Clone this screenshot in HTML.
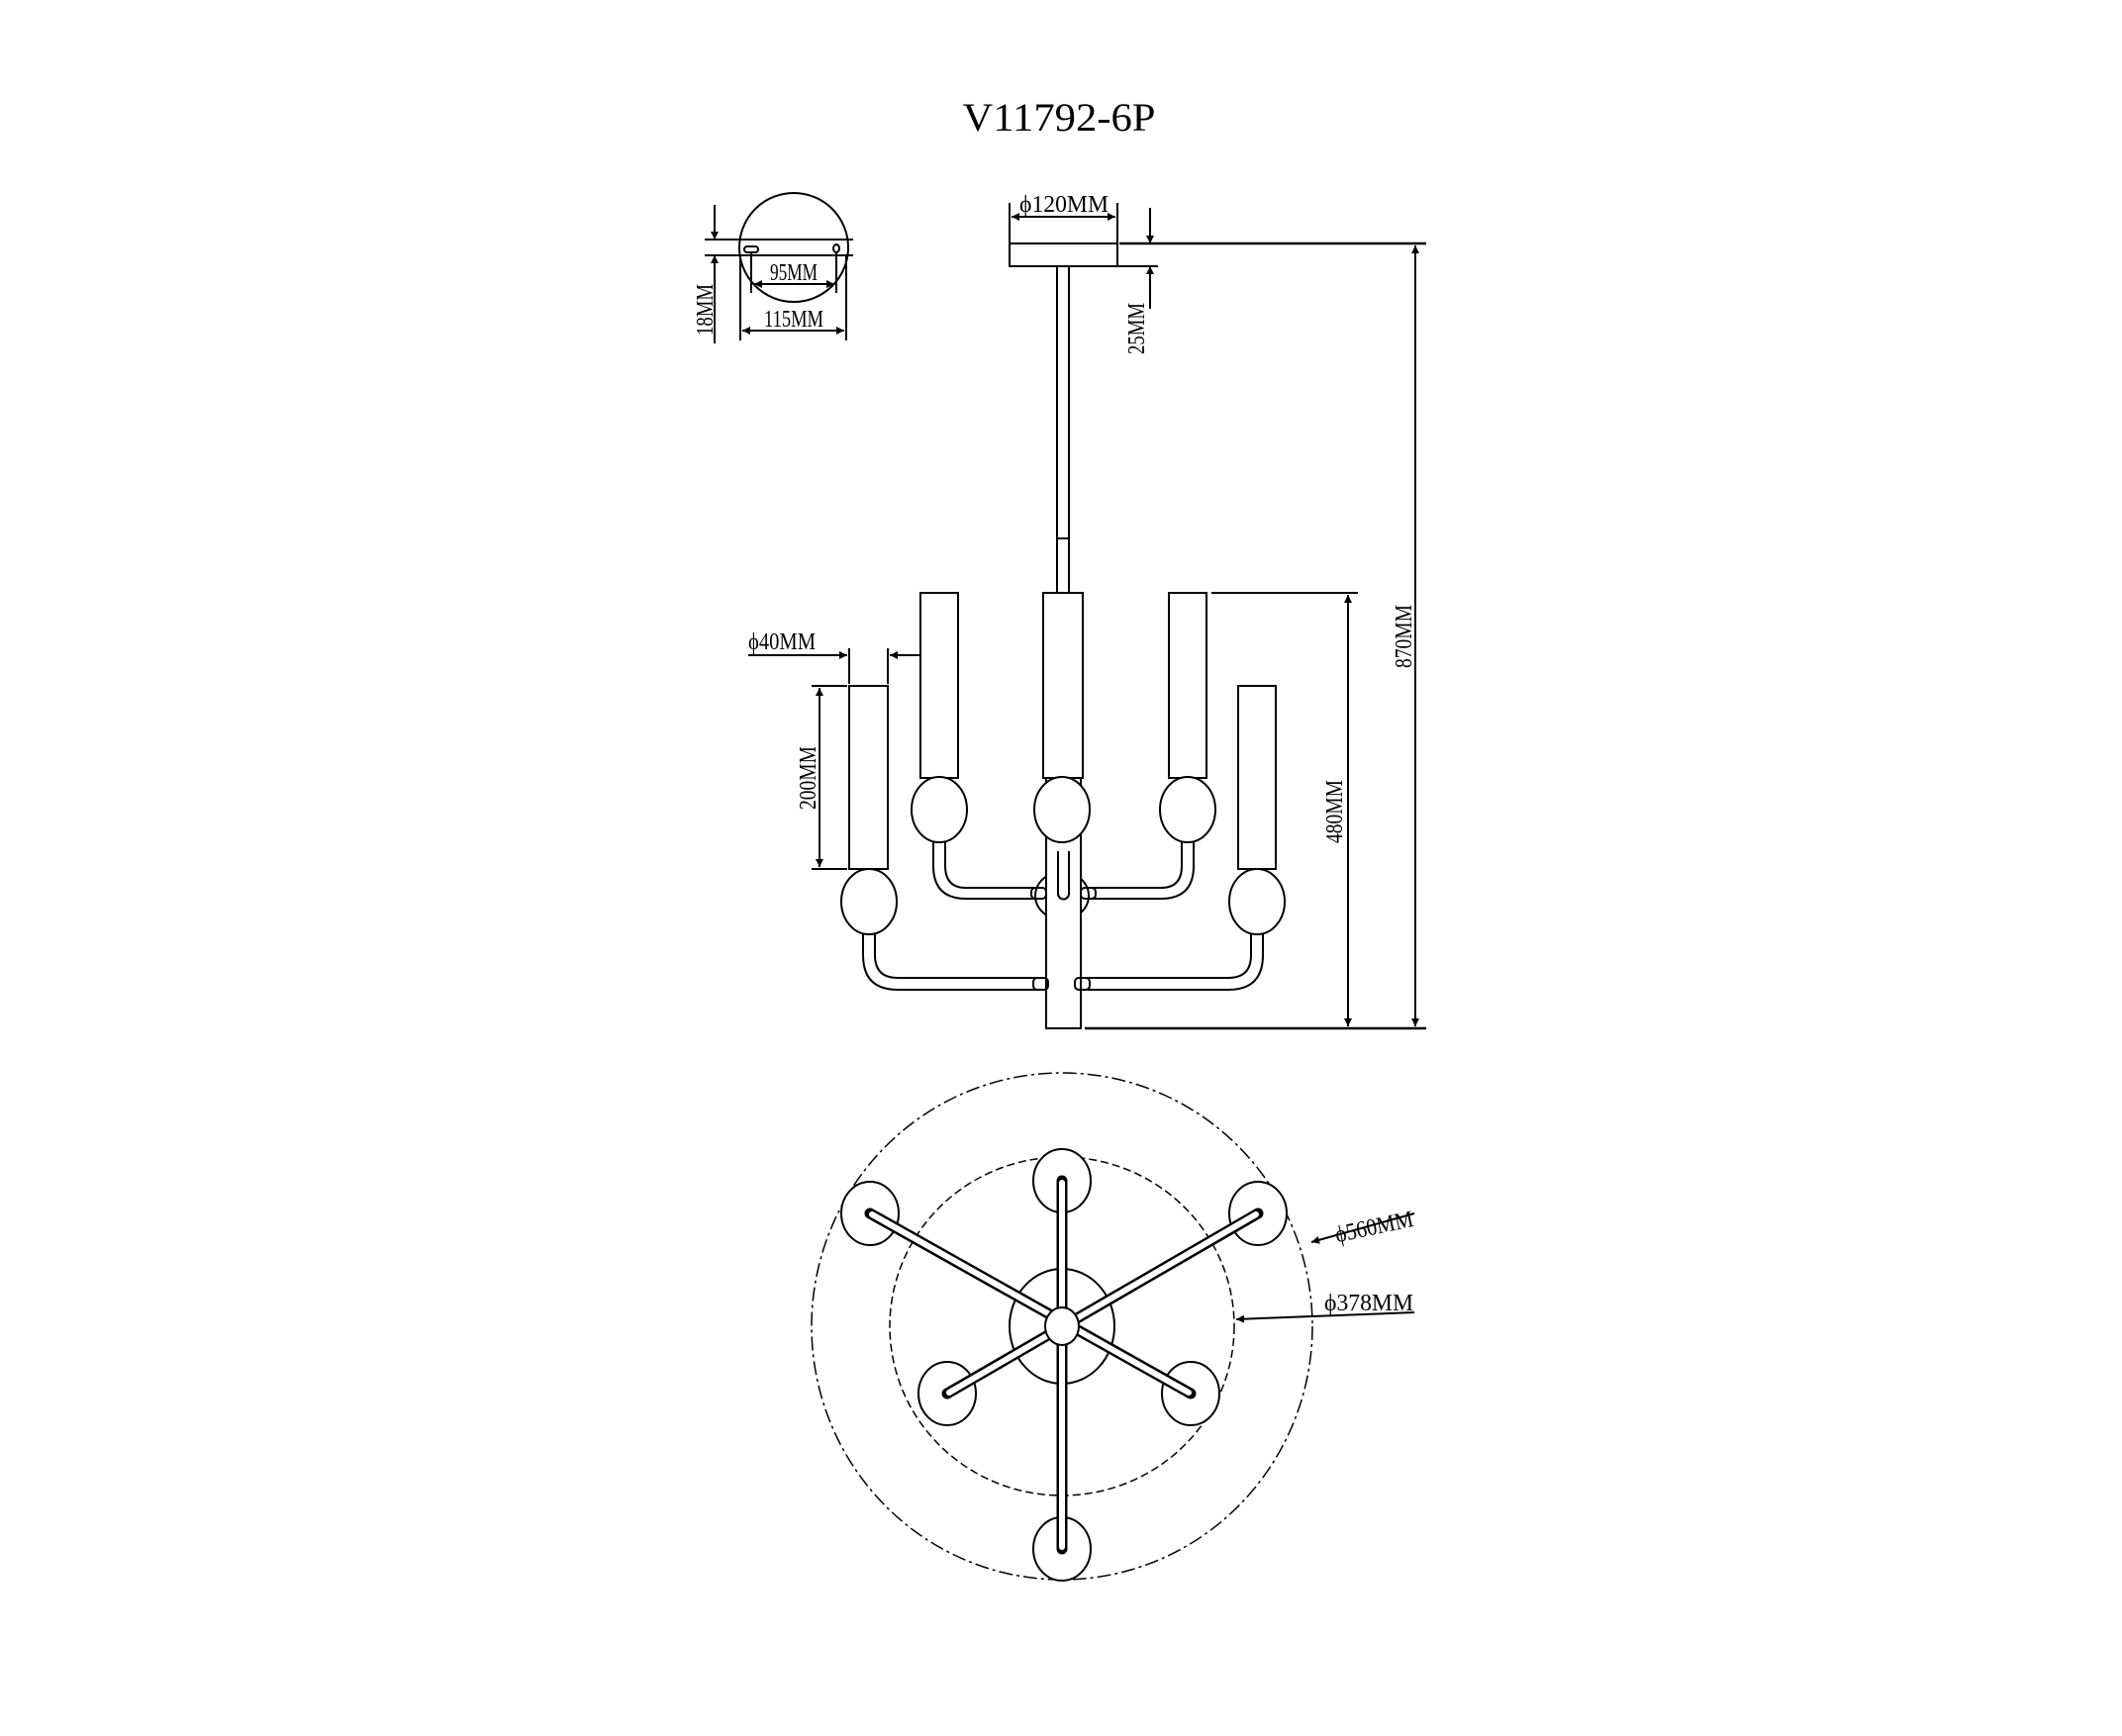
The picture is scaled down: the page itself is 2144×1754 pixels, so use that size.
<!DOCTYPE html>
<html><head><meta charset="utf-8"><style>
html,body{margin:0;padding:0;background:#fff;}
svg{display:block;}
text{font-family:"Liberation Serif",serif;fill:#000;}
</style></head><body>
<svg width="2144" height="1754" viewBox="0 0 2144 1754" xmlns="http://www.w3.org/2000/svg">
<defs>
<marker id="a" viewBox="0 0 10 10" refX="10" refY="5" markerWidth="16" markerHeight="8" orient="auto-start-reverse" markerUnits="userSpaceOnUse"><path d="M0,0 L10,5 L0,10 z" fill="#000"/></marker>
</defs>
<g stroke="#000" stroke-width="2" fill="none">
<text x="1070" y="132" font-size="40" text-anchor="middle" stroke="none" textLength="195" lengthAdjust="spacingAndGlyphs">V11792-6P</text>

<!-- ceiling plate detail -->
<ellipse cx="802" cy="250" rx="55" ry="55"/>
<line x1="712" y1="242" x2="862" y2="242"/>
<line x1="712" y1="258" x2="862" y2="258"/>
<rect x="752" y="249" width="14" height="6" rx="3"/>
<ellipse cx="845" cy="251" rx="3" ry="4"/>
<line x1="759" y1="255" x2="759" y2="296"/>
<line x1="845" y1="255" x2="845" y2="296"/>
<line x1="762" y1="287" x2="843" y2="287" marker-start="url(#a)" marker-end="url(#a)"/>
<line x1="748" y1="258" x2="748" y2="344"/>
<line x1="855" y1="258" x2="855" y2="344"/>
<line x1="750" y1="334" x2="853" y2="334" marker-start="url(#a)" marker-end="url(#a)"/>
<line x1="722" y1="207" x2="722" y2="242" marker-end="url(#a)"/>
<line x1="722" y1="347" x2="722" y2="258" marker-end="url(#a)"/>
<text x="802" y="283" font-size="24" text-anchor="middle" stroke="none" textLength="48" lengthAdjust="spacingAndGlyphs">95MM</text>
<text x="802" y="330" font-size="24" text-anchor="middle" stroke="none" textLength="60" lengthAdjust="spacingAndGlyphs">115MM</text>
<text transform="translate(720,313) rotate(-90)" font-size="24" text-anchor="middle" stroke="none" textLength="52" lengthAdjust="spacingAndGlyphs">18MM</text>

<!-- canopy -->
<rect x="1020" y="246" width="109" height="23"/>
<line x1="1020" y1="205" x2="1020" y2="246"/>
<line x1="1129" y1="205" x2="1129" y2="246"/>
<line x1="1022" y1="219" x2="1127" y2="219" marker-start="url(#a)" marker-end="url(#a)"/>
<text x="1075" y="214" font-size="24" text-anchor="middle" stroke="none" textLength="90" lengthAdjust="spacingAndGlyphs">ϕ120MM</text>
<line x1="1131" y1="246" x2="1441" y2="246" stroke-width="2.5"/>
<line x1="1129" y1="269" x2="1170" y2="269"/>
<line x1="1162" y1="210" x2="1162" y2="246" marker-end="url(#a)"/>
<line x1="1162" y1="312" x2="1162" y2="269" marker-end="url(#a)"/>
<text transform="translate(1156,332) rotate(-90)" font-size="24" text-anchor="middle" stroke="none" textLength="52" lengthAdjust="spacingAndGlyphs">25MM</text>

<!-- stem -->
<line x1="1068" y1="269" x2="1068" y2="599"/>
<line x1="1080" y1="269" x2="1080" y2="599"/>
<line x1="1068" y1="544" x2="1080" y2="544"/>

<!-- 870 / 480 -->
<line x1="1430" y1="248" x2="1430" y2="1037" marker-start="url(#a)" marker-end="url(#a)"/>
<text transform="translate(1426,643) rotate(-90)" font-size="24" text-anchor="middle" stroke="none" textLength="64" lengthAdjust="spacingAndGlyphs">870MM</text>
<line x1="1224" y1="599" x2="1372" y2="599"/>
<line x1="1362" y1="601" x2="1362" y2="1037" marker-start="url(#a)" marker-end="url(#a)"/>
<text transform="translate(1356,820) rotate(-90)" font-size="24" text-anchor="middle" stroke="none" textLength="64" lengthAdjust="spacingAndGlyphs">480MM</text>
<line x1="1096" y1="1039" x2="1441" y2="1039" stroke-width="2.5"/>

<!-- center hub -->
<ellipse cx="1073" cy="905" rx="27" ry="24"/>
<rect x="1057" y="786" width="35" height="253" fill="#fff"/>
<path d="M1069,860 L1069,903 A5.5,5.5 0 0 0 1080,903 L1080,860" fill="#fff"/>

<!-- tubes -->
<rect x="1054" y="599" width="40" height="187" fill="#fff"/>
<rect x="930" y="599" width="38" height="187"/>
<rect x="1181" y="599" width="38" height="187"/>
<rect x="858" y="693" width="39" height="185"/>
<rect x="1251" y="693" width="38" height="185"/>

<!-- globes -->
<ellipse cx="949" cy="818" rx="28" ry="33" fill="#fff"/>
<ellipse cx="1073" cy="818" rx="28" ry="33" fill="#fff"/>
<ellipse cx="1200" cy="818" rx="28" ry="33" fill="#fff"/>
<ellipse cx="878" cy="911" rx="28" ry="33"/>
<ellipse cx="1270" cy="911" rx="28" ry="33"/>

<!-- upper arms -->
<path d="M943,851 L943,875 Q943,908 976,908 L1050,908"/>
<path d="M955,851 L955,875 Q955,897 976,897 L1050,897"/>
<path d="M1206,851 L1206,875 Q1206,908 1173,908 L1097,908"/>
<path d="M1194,851 L1194,875 Q1194,897 1173,897 L1097,897"/>
<rect x="1042" y="897" width="15" height="11" rx="4"/>
<rect x="1092" y="897" width="15" height="11" rx="4"/>
<!-- lower arms -->
<path d="M872,944 L872,965 Q872,1000 907,1000 L1050,1000"/>
<path d="M884,944 L884,965 Q884,988 907,988 L1050,988"/>
<path d="M1276,944 L1276,965 Q1276,1000 1241,1000 L1098,1000"/>
<path d="M1264,944 L1264,965 Q1264,988 1241,988 L1098,988"/>
<rect x="1044" y="988" width="15" height="12" rx="4"/>
<rect x="1086" y="988" width="15" height="12" rx="4"/>

<!-- 200MM -->
<line x1="820" y1="693" x2="856" y2="693"/>
<line x1="820" y1="878" x2="856" y2="878"/>
<line x1="828" y1="695" x2="828" y2="876" marker-start="url(#a)" marker-end="url(#a)"/>
<text transform="translate(824,786) rotate(-90)" font-size="24" text-anchor="middle" stroke="none" textLength="64" lengthAdjust="spacingAndGlyphs">200MM</text>
<!-- phi40 -->
<line x1="858" y1="655" x2="858" y2="691"/>
<line x1="897" y1="655" x2="897" y2="691"/>
<line x1="756" y1="662" x2="856" y2="662" marker-end="url(#a)"/>
<line x1="930" y1="662" x2="899" y2="662" marker-end="url(#a)"/>
<text x="790" y="656" font-size="24" text-anchor="middle" stroke="none" textLength="68" lengthAdjust="spacingAndGlyphs">ϕ40MM</text>

<!-- plan view -->
<ellipse cx="1073" cy="1340" rx="253" ry="256" stroke-width="1.5" stroke-dasharray="14,4,3,4"/>
<ellipse cx="1073" cy="1340" rx="174" ry="171" stroke-width="1.5" stroke-dasharray="8,4"/>
<ellipse cx="1073" cy="1340" rx="53" ry="58"/>
<ellipse cx="1073" cy="1193" rx="29" ry="32" fill="#fff"/>
<ellipse cx="1073" cy="1565" rx="29" ry="32" fill="#fff"/>
<ellipse cx="879" cy="1226" rx="29" ry="32" fill="#fff"/>
<ellipse cx="1271" cy="1226" rx="29" ry="32" fill="#fff"/>
<ellipse cx="957" cy="1408" rx="29" ry="32" fill="#fff"/>
<ellipse cx="1203" cy="1408" rx="29" ry="32" fill="#fff"/>
<g stroke-width="11" stroke-linecap="round">
<line x1="1073" y1="1193" x2="1073" y2="1565"/>
<line x1="879" y1="1226" x2="1203" y2="1408"/>
<line x1="1271" y1="1226" x2="957" y2="1408"/>
</g>
<g stroke="#fff" stroke-width="6" stroke-linecap="round">
<line x1="1073" y1="1195" x2="1073" y2="1563"/>
<line x1="881" y1="1227" x2="1201" y2="1407"/>
<line x1="1269" y1="1227" x2="959" y2="1407"/>
</g>
<ellipse cx="1073" cy="1340" rx="17" ry="19" fill="#fff"/>
<line x1="1429" y1="1226" x2="1325" y2="1255" marker-end="url(#a)"/>
<text transform="translate(1390,1247) rotate(-12)" font-size="24" text-anchor="middle" stroke="none" textLength="80" lengthAdjust="spacingAndGlyphs">ϕ560MM</text>
<line x1="1429" y1="1326" x2="1249" y2="1333" marker-end="url(#a)"/>
<text x="1383" y="1324" font-size="24" text-anchor="middle" stroke="none" textLength="90" lengthAdjust="spacingAndGlyphs">ϕ378MM</text>
</g>
</svg>
</body></html>
